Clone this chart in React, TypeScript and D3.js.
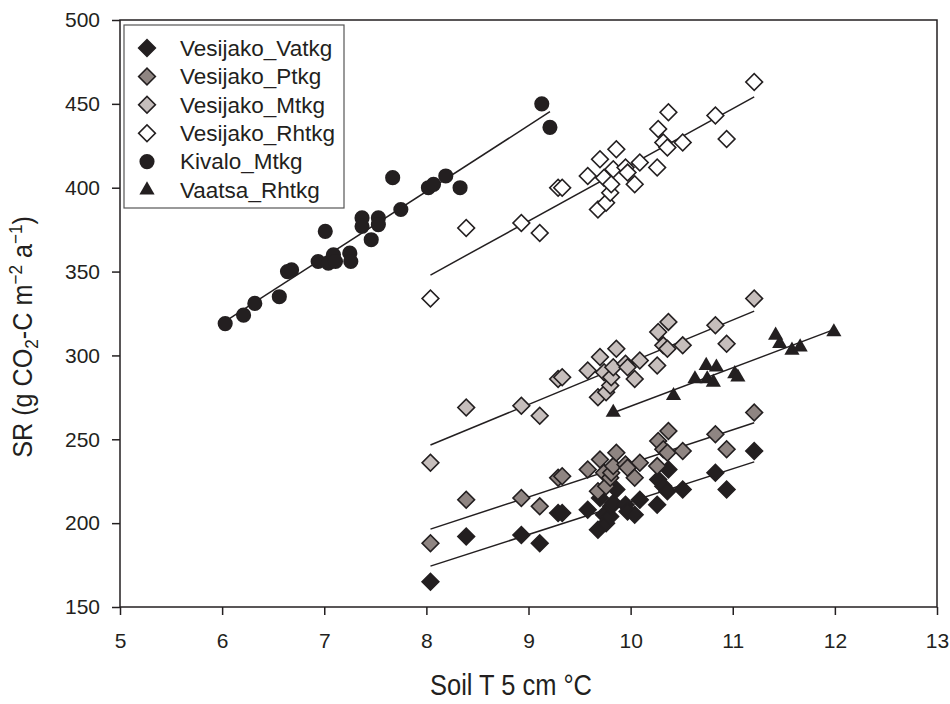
import React from 'react';
import * as d3 from 'd3';

// Vesijako plots share the same soil temperatures
const vesijakoTemp = [8.04, 8.39, 8.93, 9.11, 9.29, 9.33, 9.58, 9.68, 9.70, 9.74, 9.76, 9.80, 9.81, 9.83,
  9.86, 9.95, 9.97, 10.04, 10.09, 10.26, 10.27, 10.32, 10.36, 10.37, 10.51, 10.83, 10.94, 11.21];
const vatkgSR = [165, 192, 193, 188, 206, 206, 208, 196, 215, 205, 200, 204, 210, 212,
  220, 211, 207, 205, 214, 211, 226, 222, 219, 232, 220, 230, 220, 243];
const ptkgSR = [188, 214, 215, 210, 227, 228, 232, 219, 238, 230, 222, 227, 230, 234,
  242, 235, 233, 227, 236, 234, 249, 244, 242, 255, 243, 253, 244, 266];
const mtkgSR = [236, 269, 270, 264, 286, 287, 291, 275, 299, 290, 278, 282, 287, 293,
  304, 295, 293, 286, 297, 294, 314, 306, 304, 320, 306, 318, 307, 334];
const rhtkgSR = [334, 376, 379, 373, 400, 400, 407, 387, 417, 406, 391, 397, 402, 411,
  423, 412, 409, 402, 415, 412, 435, 427, 424, 445, 427, 443, 429, 463];

const kivaloTemp = [6.03, 6.21, 6.32, 6.56, 6.64, 6.68, 6.94, 7.01, 7.04, 7.09, 7.11, 7.25, 7.26,
  7.37, 7.37, 7.53, 7.53, 7.46, 7.75, 7.67, 8.02, 8.07, 8.19, 8.33, 9.13, 9.21];
const kivaloSR = [319, 324, 331, 335, 350, 351, 356, 374, 355, 360, 356, 361, 356,
  382, 377, 382, 378, 369, 387, 406, 400, 402, 407, 400, 450, 436];

const vaatsaTemp = [9.83, 10.42, 10.63, 10.74, 10.84, 10.75, 10.81, 11.02, 11.05, 11.42, 11.46, 11.58, 11.66, 11.99];
const vaatsaSR = [266, 276, 286, 294, 293, 286, 284, 289, 287, 312, 307, 303, 305, 314];

const xTicks = [5, 6, 7, 8, 9, 10, 11, 12, 13];
const yTicks = [150, 200, 250, 300, 350, 400, 450, 500];

const seriesNames = ['Vesijako_Vatkg', 'Vesijako_Ptkg', 'Vesijako_Mtkg', 'Vesijako_Rhtkg', 'Kivalo_Mtkg', 'Vaatsa_Rhtkg'];

const FONT = '"Liberation Sans", Arial, Helvetica, sans-serif';
const INK = '#231f20';

class App extends React.Component {
  svgRef = React.createRef<SVGSVGElement>();

  componentDidMount() {
    this.drawChart();
  }

  fitLine(xs: number[], ys: number[]) {
    const mx = d3.mean(xs)!, my = d3.mean(ys)!;
    let sxy = 0, sxx = 0;
    xs.forEach((x, i) => { sxy += (x - mx) * (ys[i] - my); sxx += (x - mx) * (x - mx); });
    const b = sxy / sxx, a = my - b * mx;
    const [x0, x1] = d3.extent(xs) as [number, number];
    return [[x0, a + b * x0], [x1, a + b * x1]];
  }

  drawChart() {
    const margin = { top: 20, right: 13, bottom: 97, left: 120 },
      width = 950 - margin.left - margin.right,
      height = 704 - margin.top - margin.bottom;

    const svg = d3.select(this.svgRef.current);
    svg.selectAll('*').remove();

    const g = svg.append('g').attr('transform', `translate(${margin.left}, ${margin.top})`);

    const x = d3.scaleLinear().domain([5, 13]).range([0, width]);
    const y = d3.scaleLinear().domain([150, 500]).range([height, 0]);

    const series = [
      { name: seriesNames[0], xs: vesijakoTemp, ys: vatkgSR, shape: 'diamond', fill: INK },
      { name: seriesNames[1], xs: vesijakoTemp, ys: ptkgSR, shape: 'diamond', fill: '#8f8582' },
      { name: seriesNames[2], xs: vesijakoTemp, ys: mtkgSR, shape: 'diamond', fill: '#c6bebc' },
      { name: seriesNames[3], xs: vesijakoTemp, ys: rhtkgSR, shape: 'diamond', fill: '#ffffff' },
      { name: seriesNames[4], xs: kivaloTemp, ys: kivaloSR, shape: 'circle', fill: INK },
      { name: seriesNames[5], xs: vaatsaTemp, ys: vaatsaSR, shape: 'triangle', fill: INK },
    ];

    const symbolPath = (shape: string) => {
      if (shape === 'circle') return d3.symbol().type(d3.symbolCircle).size(180)()!;
      if (shape === 'triangle') return d3.symbol().type(d3.symbolTriangle).size(100)()!;
      return d3.symbol().type(d3.symbolSquare).size(140)()!;
    };
    const symbolRotate = (shape: string) => (shape === 'diamond' ? ' rotate(45)' : '');

    // regression lines
    const line = d3.line<number[]>().x(d => x(d[0])).y(d => y(d[1]));
    series.forEach(s => {
      g.append('path')
        .attr('d', line(this.fitLine(s.xs, s.ys)))
        .attr('fill', 'none')
        .attr('stroke', INK)
        .attr('stroke-width', 1.5);
    });

    // points
    series.forEach(s => {
      g.append('g').selectAll('path')
        .data(s.xs.map((v, i) => [v, s.ys[i]]))
        .enter().append('path')
        .attr('d', symbolPath(s.shape))
        .attr('transform', d => `translate(${x(d[0])}, ${y(d[1])})${symbolRotate(s.shape)}`)
        .attr('fill', s.fill)
        .attr('stroke', INK)
        .attr('stroke-width', s.shape === 'diamond' ? 1.6 : 0);
    });

    // frame
    g.append('rect')
      .attr('width', width).attr('height', height)
      .attr('fill', 'none').attr('stroke', INK).attr('stroke-width', 1.5);

    const xAxis = g.append('g')
      .attr('transform', `translate(0, ${height})`)
      .call(d3.axisBottom(x).tickValues(xTicks).tickSizeInner(8).tickSizeOuter(0).tickPadding(18));
    const yAxis = g.append('g')
      .call(d3.axisLeft(y).tickValues(yTicks).tickSizeInner(8).tickSizeOuter(0).tickPadding(12));
    [xAxis, yAxis].forEach(a => {
      a.select('.domain').remove();
      a.selectAll('line').attr('stroke', INK).attr('stroke-width', 1.5);
      a.selectAll('text').attr('font-family', FONT).attr('font-size', 21).attr('fill', INK);
    });

    // axis titles
    svg.append('text')
      .attr('x', 511).attr('y', 695)
      .attr('text-anchor', 'middle')
      .attr('font-family', FONT).attr('font-size', 29).attr('fill', INK)
      .attr('textLength', 162).attr('lengthAdjust', 'spacingAndGlyphs')
      .text('Soil T 5 cm °C');

    const yt = svg.append('text')
      .attr('transform', 'translate(32, 337) rotate(-90) scale(0.9, 1)')
      .attr('text-anchor', 'middle')
      .attr('font-family', FONT).attr('font-size', 28).attr('fill', INK);
    yt.append('tspan').text('SR (g CO');
    yt.append('tspan').attr('font-size', 19).attr('dy', 6).text('2');
    yt.append('tspan').attr('dy', -6).text('-C m');
    yt.append('tspan').attr('font-size', 19).attr('dy', -10).text('\u22122');
    yt.append('tspan').attr('dy', 10).text(' a');
    yt.append('tspan').attr('font-size', 19).attr('dy', -10).text('\u22121');
    yt.append('tspan').attr('dy', 10).text(')');

    // legend
    const legend = svg.append('g').attr('transform', 'translate(124, 25)');
    legend.append('rect')
      .attr('width', 220).attr('height', 183)
      .attr('fill', '#fff').attr('stroke', '#555').attr('stroke-width', 1.2);
    series.forEach((s, i) => {
      const row = legend.append('g').attr('transform', `translate(0, ${23 + i * 28.4})`);
      row.append('path')
        .attr('d', symbolPath(s.shape))
        .attr('transform', `translate(23, 0)${symbolRotate(s.shape)}`)
        .attr('fill', s.fill)
        .attr('stroke', INK)
        .attr('stroke-width', s.shape === 'diamond' ? 1.6 : 0);
      row.append('text')
        .attr('x', 56).attr('y', 0).attr('dy', '0.35em')
        .attr('font-family', FONT).attr('font-size', 22.5).attr('fill', INK)
        .text(s.name);
    });
  }

  render() {
    return (
      <svg ref={this.svgRef} width={950} height={704}
        style={{ position: 'absolute', left: 0, top: 0, background: '#fff' }} />
    );
  }
}

export default App;
